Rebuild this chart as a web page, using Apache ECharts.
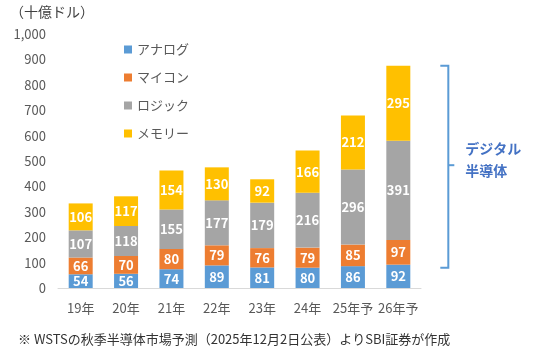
<!DOCTYPE html>
<html><head><meta charset="utf-8">
<script src="https://cdn.jsdelivr.net/npm/echarts@6/dist/echarts.min.js"></script>
<style>html,body{margin:0;padding:0;background:#fff}#c{width:551px;height:354px}</style>
</head><body><div id="c"></div>
<script>
const categories = ['19年','20年','21年','22年','23年','24年','25年予','26年予'];
const analog = [54, 56, 74, 89, 81, 80, 86, 92];
const micro = [66, 70, 80, 79, 76, 79, 85, 97];
const logic = [107, 118, 155, 177, 179, 216, 296, 391];
const memory = [106, 117, 154, 130, 92, 166, 212, 295];
const seriesNames = ['アナログ','マイコン','ロジック','メモリー'];
const yTicks = [0, 1000, 100];

const FONT = "'Noto Sans CJK JP', sans-serif";
const colors = ['#5B9BD5','#ED7D31','#A5A5A5','#FFC000'];
const chart = echarts.init(document.getElementById('c'));
const mk = (name, data, i) => ({
  name, type: 'bar', stack: 's', data, barWidth: 24,
  itemStyle: { color: colors[i] },
  label: { show: true, position: 'inside', color: '#fff', fontWeight: 'bold', fontSize: 13, fontFamily: FONT }
});
chart.setOption({
  animation: false,
  textStyle: { fontFamily: FONT },
  grid: { left: 58, right: 130, top: 34, bottom: 66 },
  legend: {
    orient: 'vertical', left: 119, top: 38, itemGap: 15, itemWidth: 8, itemHeight: 8, icon: 'rect',
    textStyle: { color: '#595959', fontSize: 13, fontFamily: FONT },
    data: seriesNames
  },
  xAxis: {
    type: 'category', data: categories,
    axisLine: { lineStyle: { color: '#D9D9D9' } }, axisTick: { show: false },
    axisLabel: { color: '#595959', fontSize: 13, margin: 14, interval: 0 }
  },
  yAxis: {
    type: 'value', min: yTicks[0], max: yTicks[1], interval: yTicks[2],
    splitLine: { show: false }, axisLine: { show: false }, axisTick: { show: false },
    axisLabel: { color: '#595959', fontSize: 13, margin: 12, formatter: v => v.toLocaleString('en-US') }
  },
  series: [mk(seriesNames[0], analog, 0), mk(seriesNames[1], micro, 1), mk(seriesNames[2], logic, 2), mk(seriesNames[3], memory, 3)]
});
// bracket for digital semiconductors on last category
const last = categories.length - 1;
const topV = analog[last] + micro[last] + logic[last] + memory[last];
const botV = analog[last];
const pTop = chart.convertToPixel({ gridIndex: 0 }, [last, topV]);
const pBot = chart.convertToPixel({ gridIndex: 0 }, [last, botV]);
const bx = pTop[0] + 50;
const midY = (pTop[1] + pBot[1]) / 2;
chart.setOption({
  graphic: [
    { type: 'polyline', shape: { points: [[bx - 8, pTop[1]], [bx, pTop[1]], [bx, pBot[1] + 3], [bx - 8, pBot[1] + 3]] },
      style: { stroke: '#5B9BD5', lineWidth: 2, fill: null } },
    { type: 'line', shape: { x1: bx, y1: midY, x2: bx + 6, y2: midY }, style: { stroke: '#5B9BD5', lineWidth: 2 } },
    { type: 'text', left: bx + 17, top: midY - 28, style: { text: 'デジタル\n半導体', fill: '#4472C4', font: "bold 14px " + FONT, lineHeight: 22 } },
    { type: 'text', left: 10, top: 5, style: { text: '（十億ドル）', fill: '#404040', font: "14px " + FONT } },
    { type: 'text', left: 18, top: 333, style: { text: '※ WSTSの秋季半導体市場予測（2025年12月2日公表）よりSBI証券が作成', fill: '#333', font: "13px " + FONT } }
  ]
});
</script></body></html>
